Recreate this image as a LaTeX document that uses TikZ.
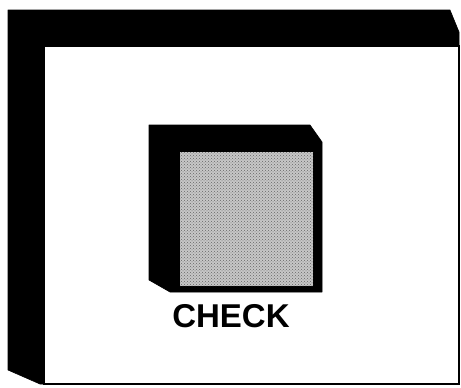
\documentclass[tikz,border=0pt]{standalone}
\usepackage{fontspec}
\setmainfont{Liberation Sans}
\usetikzlibrary{patterns}
\tikzset{
  depth/.style={fill=black, draw=black, line width=0.6pt, line join=round},
  face/.style={fill=white, draw=black, line width=1.2pt},
  screen/.style={fill=black!22, draw=none},
  screendots/.style={pattern=crosshatch dots, pattern color=black!60},
  caption/.style={font=\fontsize{33}{33}\selectfont\bfseries, inner sep=0pt}
}
\begin{document}
\begin{tikzpicture}[x=1pt, y=-1pt]
  \useasboundingbox[fill=white] (0,0) rectangle (461,388);
  % outer box
  \draw[depth] (8,10) -- (450,10) -- (459,32) -- (459,46) -- (44,46) -- (44,384) -- (40,384) -- (8,370) -- cycle;
  \draw[face] (44,46) rectangle (459,384);
  % inner box
  \draw[depth] (149,125) -- (310,125) -- (322,142) -- (322,292) -- (170,292) -- (149,280) -- cycle;
  \fill[screen] (180,152) rectangle (313,286);
  \fill[screendots] (180,152) rectangle (313,286);
  \node[caption] (check) at (231,316) {CHECK};
\end{tikzpicture}
\end{document}
